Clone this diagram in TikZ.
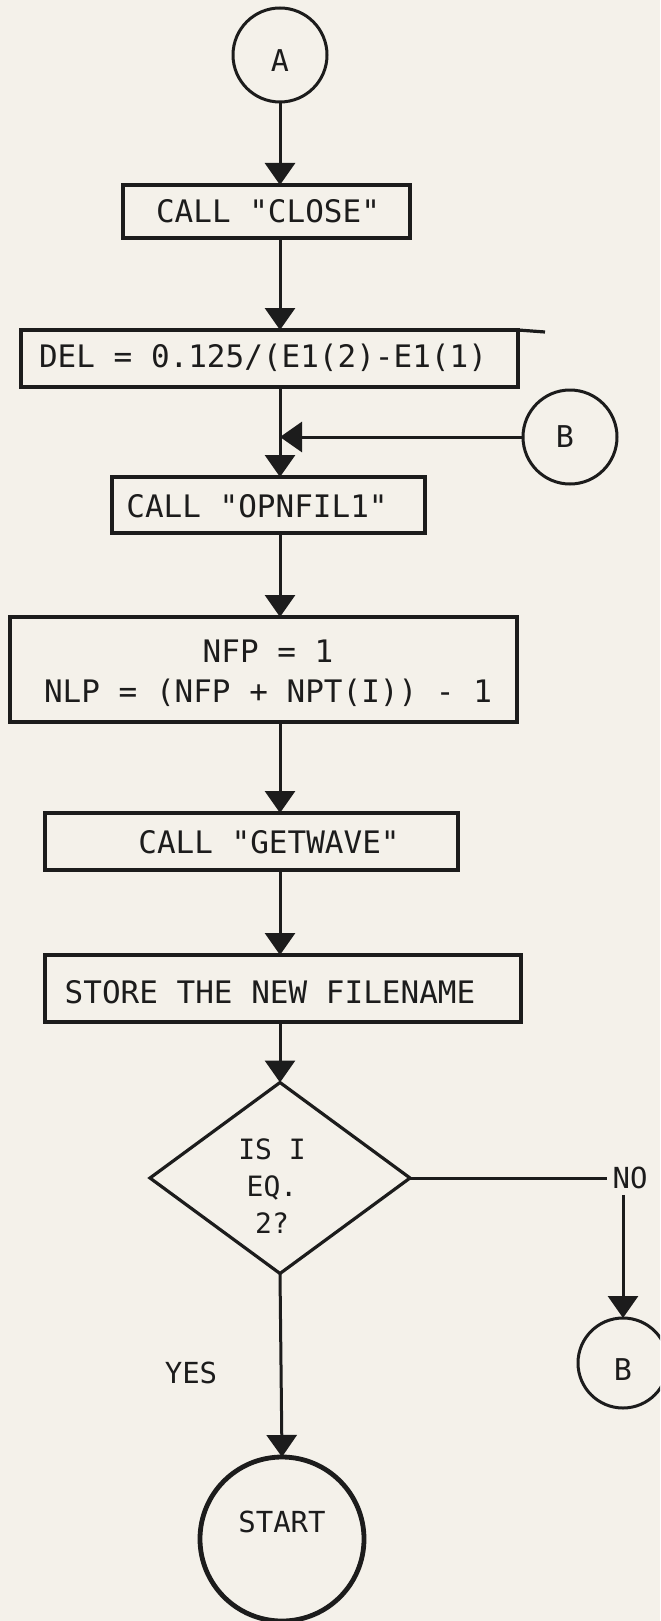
\documentclass[tikz,border=0pt]{standalone}
\usepackage{fontspec}
\setmonofont{DejaVu Sans Mono}
\usetikzlibrary{arrows.meta,shapes.geometric}
\definecolor{paper}{RGB}{244,241,234}
\definecolor{ink}{RGB}{28,28,28}
\begin{document}
\begin{tikzpicture}[x=0.5pt,y=-0.5pt,
  every node/.style={inner sep=0pt, outer sep=0pt},
  box/.style={draw=ink, line width=1.7pt, rectangle},
  conn/.style={draw=ink, circle, line width=1.5pt},
  lbl/.style={text=ink, font=\ttfamily\fontsize{15.5}{20}\selectfont, align=center},
  small/.style={text=ink, font=\ttfamily\fontsize{14}{18.5}\selectfont, align=center},
  letter/.style={text=ink, font=\ttfamily\fontsize{15}{18}\selectfont},
  mid/.style={text=ink, font=\ttfamily\fontsize{14.5}{18}\selectfont, align=center},
  flow/.style={draw=ink, line width=1.5pt},
  arr/.style={flow, -{Triangle[width=15pt,length=11pt]}},
]
\fill[paper] (0,0) rectangle (660,1621);
\useasboundingbox (0,0) rectangle (660,1621);
\clip (0,0) rectangle (660,1621);

% shapes
\node[conn, minimum size=47pt] (a) at (280,55) {};
\node[letter] (at) at (280,61) {A};
\node[box, minimum width=143.5pt, minimum height=26.5pt] (close) at (266.5,211.5) {};
\node[box, minimum width=248.5pt, minimum height=28.5pt] (del) at (269.5,358.5) {};
\node[conn, minimum size=47pt] (b1) at (570,437) {};
\node[letter] (b1t) at (565,437) {B};
\node[box, minimum width=156.5pt, minimum height=28pt] (opn) at (268.5,505) {};
\node[box, minimum width=253.5pt, minimum height=52.5pt] (nfp) at (263.5,669.5) {};
\node[box, minimum width=206.5pt, minimum height=28.5pt] (get) at (251.5,841.5) {};
\node[box, minimum width=238pt, minimum height=33.5pt] (store) at (283,988.5) {};
\node[draw=ink, line width=1.6pt, diamond, minimum width=130pt, minimum height=95.5pt] (dia) at (280,1178) {};
\node[conn, minimum size=45pt] (b2) at (623,1363) {};
\node[letter] (b2t) at (623,1370) {B};
\node[draw=ink, circle, line width=2.4pt, minimum size=82pt] (start) at (282,1539) {};

% texts
\node[lbl] (closet) at (268,211) {CALL "CLOSE"};
\node[lbl] (delt) at (263,358) {DEL = 0.125/(E1(2)-E1(1)};
\node[lbl] (opnt) at (257,506) {CALL "OPNFIL1"};
\node[lbl] (nfpt) at (268,673) {NFP = 1\\NLP = (NFP + NPT(I)) - 1};
\node[lbl] (gett) at (269,842) {CALL "GETWAVE"};
\node[lbl] (storet) at (270,992) {STORE THE NEW FILENAME};
\node[small] (diat) at (272,1186) {IS I\\EQ.\\2?};
\node[mid, inner sep=3pt] (no) at (630,1178) {NO};
\node[mid] (yes) at (191,1373) {YES};
\node[mid] (startt) at (282,1522) {START};

% box stroke overshoot
\draw[ink, line width=1.6pt] (del.north east) -- ++(27,2);

% connectors
\draw[arr] (a.south) -- (a.south |- close.north);
\draw[arr] (close.south -| a) -- (del.north -| a);
\draw[arr] (del.south -| a) -- (opn.north -| a);
\draw[arr] (b1.west) -- (b1.west -| a);
\draw[arr] (opn.south -| a) -- (nfp.north -| a);
\draw[arr] (nfp.south -| a) -- (get.north -| a);
\draw[arr] (get.south -| a) -- (store.north -| a);
\draw[arr] (store.south -| dia) -- (dia.north);
\draw[arr] (dia.south) -- (start.north);
\draw[flow] (dia.east) -- (no.west);
\draw[arr] (no.south -| b2) -- (b2.north);
\end{tikzpicture}
\end{document}
